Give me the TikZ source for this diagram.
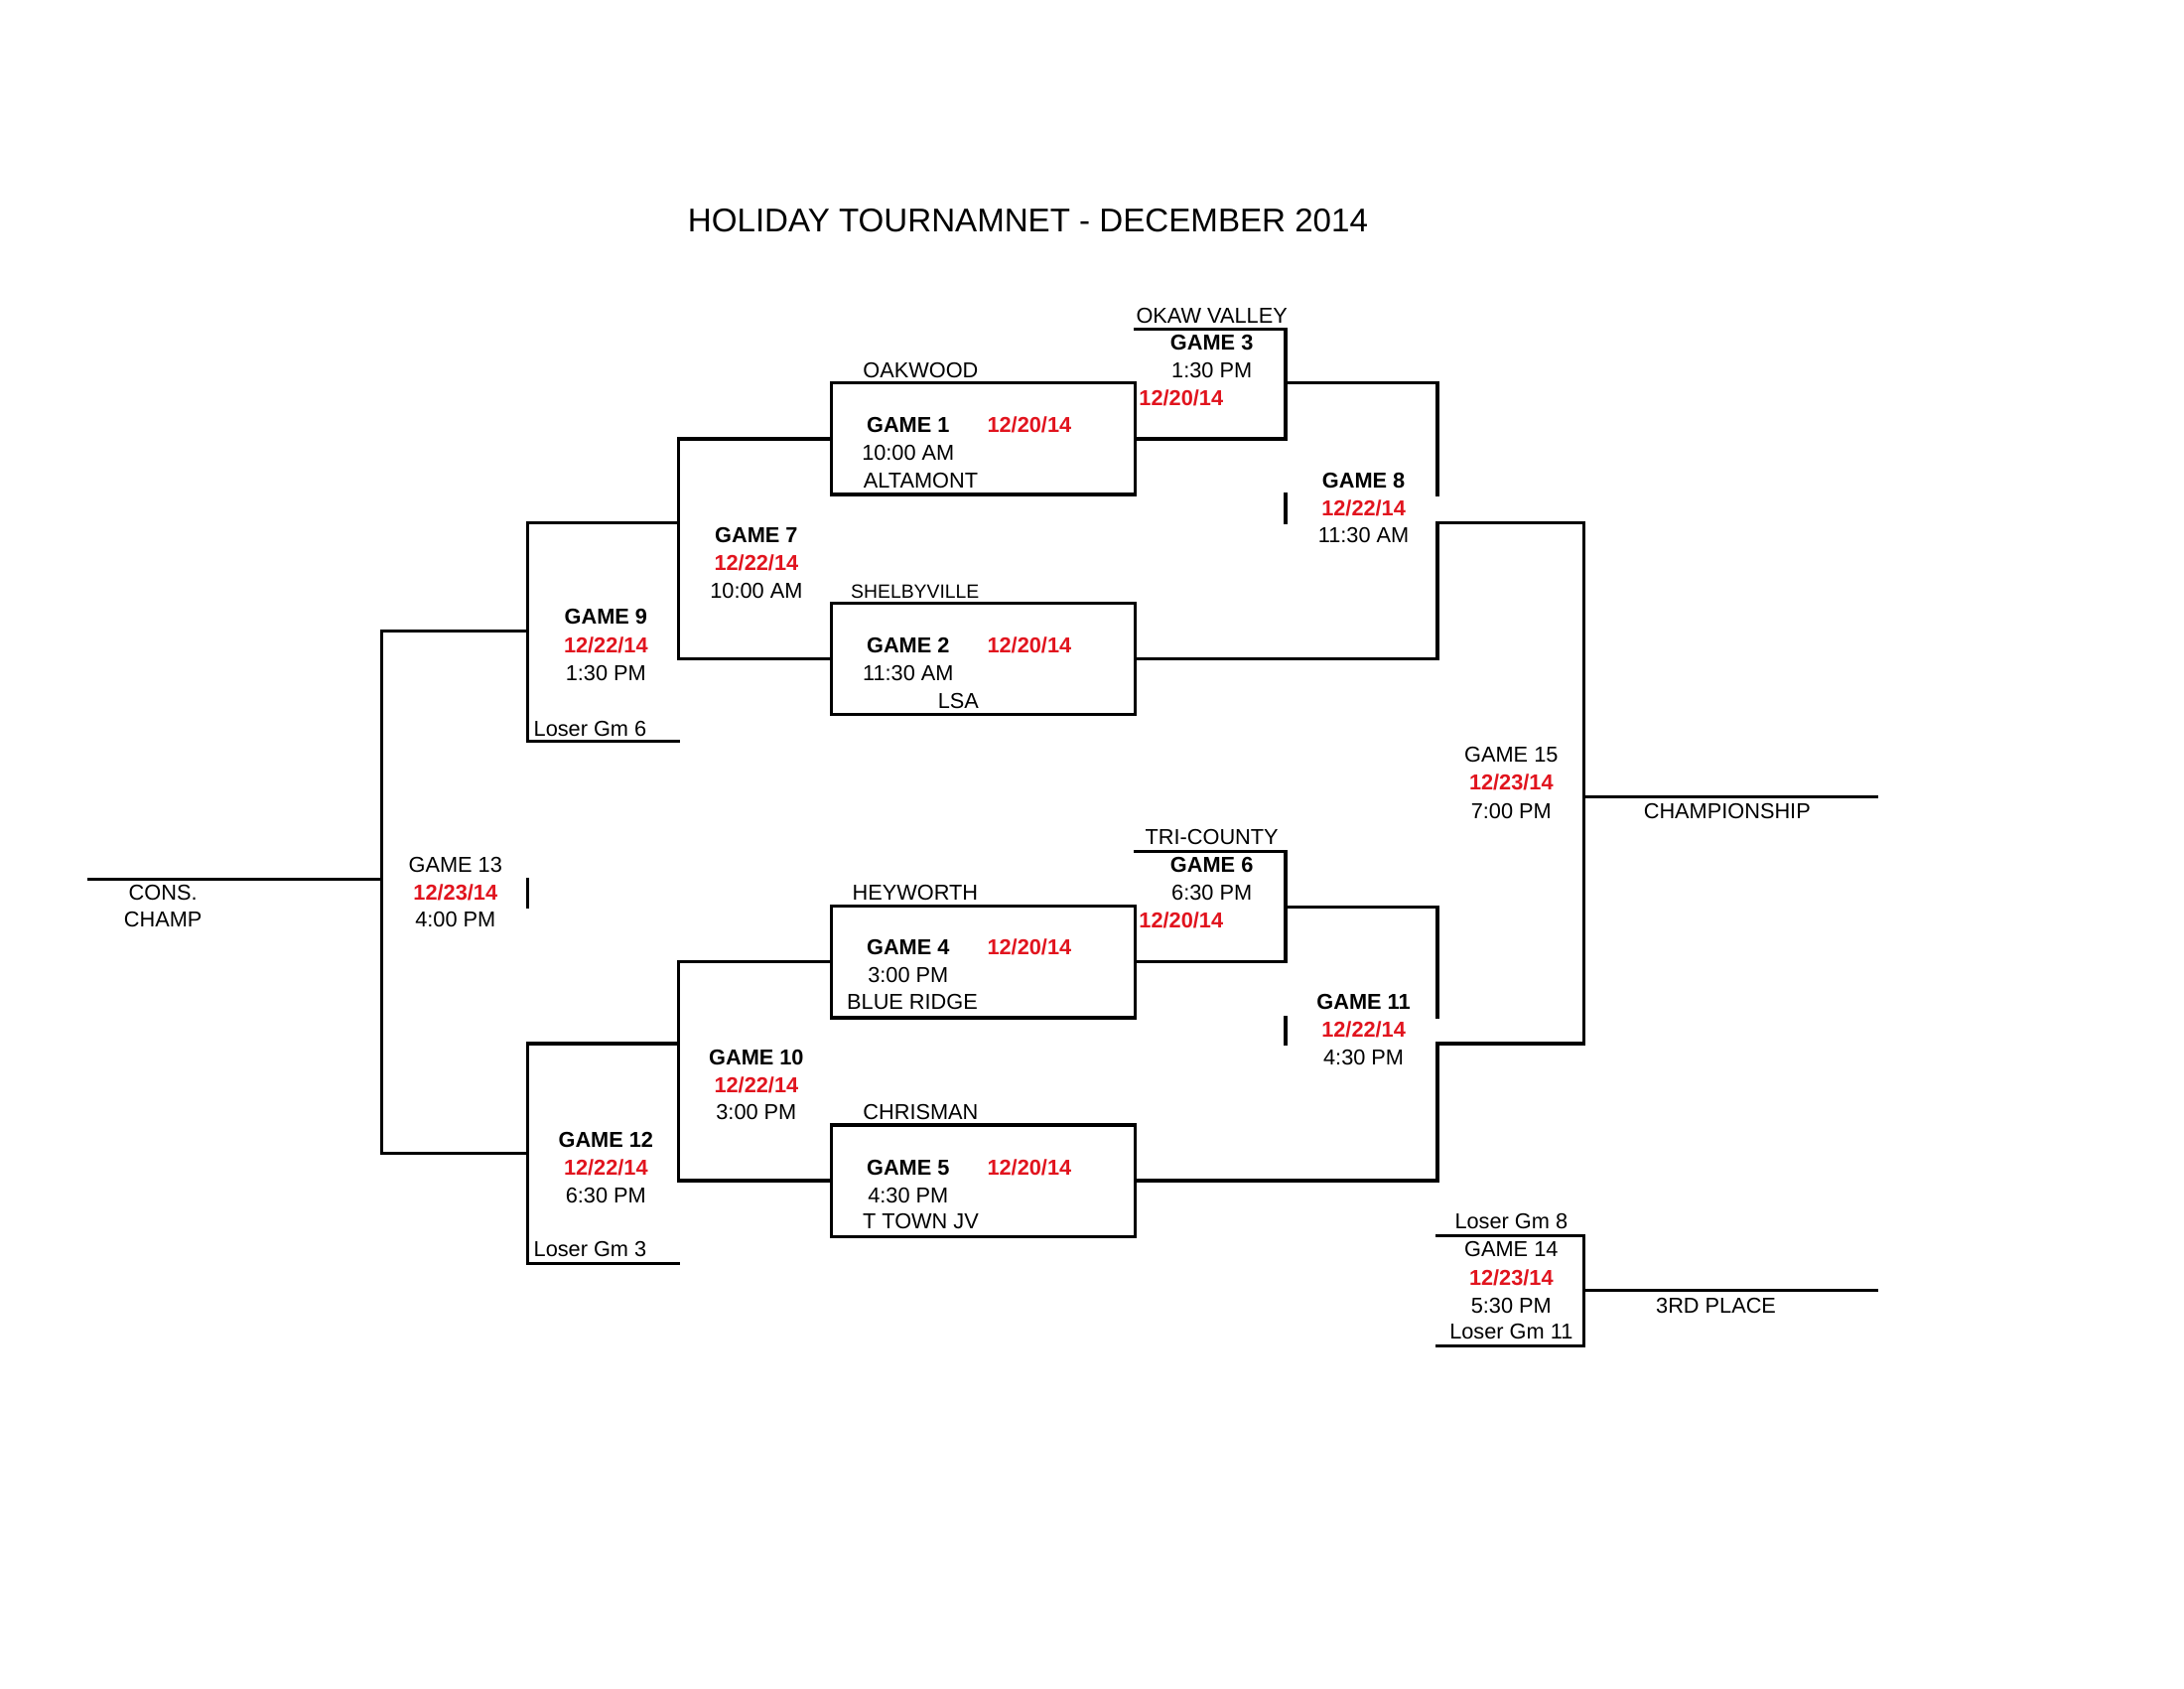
\documentclass[tikz,border=0pt]{standalone}
\usepackage{fontspec}
\setmainfont{Liberation Sans}
\definecolor{datered}{RGB}{225,20,30}
\newcommand\mysz{\fontsize{15.5}{19}\selectfont}
\tikzset{
  gbox/.style={draw, line width=2.3pt, minimum width=218pt, minimum height=80pt, inner sep=0pt},
  tx/.style={inner sep=0pt, text height=11pt, text depth=0pt, font=\mysz, yshift=-0.8pt},
  tb/.style={tx, font=\mysz\bfseries},
  tr/.style={tx, font=\mysz\bfseries, text=datered},
  ln/.style={line width=2.3pt, line cap=rect, line join=miter}
}
\begin{document}
\begin{tikzpicture}[x=1pt,y=-1pt]
\useasboundingbox (0,0) rectangle (1568,1212);
% title
\node[inner sep=0pt, text height=17pt, text depth=0pt, font=\fontsize{23.6}{28}\selectfont] (title) at (738,158) {HOLIDAY TOURNAMNET - DECEMBER 2014};

% first round boxes
\node[gbox] (g1) at (706,315) {};
\node[gbox] (g2) at (706,473) {};
\node[gbox] (g4) at (706,690.5) {};
\node[gbox] (g5) at (706,847.5) {};

% coordinates
\coordinate (j7) at (487,375);
\coordinate (g9t) at (379,375);
\coordinate (g9b) at (379,532);
\coordinate (g9e) at (487,532);
\coordinate (j9) at (379,453);
\coordinate (g13t) at (274,453);
\coordinate (g13b) at (274,828);
\coordinate (j12) at (379,828);
\coordinate (g13m) at (274,631);
\coordinate (cons) at (64,631);
\coordinate (tk13a) at (379,631);
\coordinate (tk13b) at (379,651);
\coordinate (j10) at (487,749);
\coordinate (g12t) at (379,749);
\coordinate (g12b) at (379,907);
\coordinate (g12e) at (487,907);

\coordinate (ok1) at (815,236);
\coordinate (ok2) at (923,236);
\coordinate (j3) at (923,275);
\coordinate (g8t) at (1032,275);
\coordinate (g8a) at (1032,355);
\coordinate (j8) at (1032,375);
\coordinate (tk8a) at (923,355);
\coordinate (tk8b) at (923,375);
\coordinate (g15t) at (1137,375);
\coordinate (g15b) at (1137,749);
\coordinate (j11) at (1032,749);
\coordinate (j15) at (1137,572);
\coordinate (champ) at (1347,572);

\coordinate (tc1) at (815,611);
\coordinate (tc2) at (923,611);
\coordinate (j6) at (923,651);
\coordinate (g11t) at (1032,651);
\coordinate (g11a) at (1032,730);
\coordinate (tk11a) at (923,730);
\coordinate (tk11b) at (923,749);

\coordinate (g14a) at (1032,887);
\coordinate (g14b) at (1137,887);
\coordinate (g14c) at (1137,966);
\coordinate (g14d) at (1032,966);
\coordinate (j14) at (1137,926);
\coordinate (third) at (1347,926);

% game 7 and game 10
\draw[ln] (g1.west) -| (j7) |- (g2.west);
\draw[ln] (g4.west) -| (j10) |- (g5.west);
% game 9 and 12
\draw[ln] (j7) -- (g9t) -- (g9b) -- (g9e);
\draw[ln] (j10) -- (g12t) -- (g12b) -- (g12e);
% game 13
\draw[ln] (j9) -- (g13t) -- (g13b) -- (j12);
\draw[ln] (cons) -- (g13m);
\draw[ln] (tk13a) -- (tk13b);
% game 3 and 8
\draw[ln] (ok1) -- (ok2) |- (g1.east);
\draw[ln] (j3) -- (g8t) -- (g8a);
\draw[ln] (tk8a) -- (tk8b);
\draw[ln] (g2.east) -| (j8) -- (g15t) -- (g15b) -- (j11);
% game 6 and 11
\draw[ln] (tc1) -- (tc2) |- (g4.east);
\draw[ln] (j6) -- (g11t) -- (g11a);
\draw[ln] (tk11a) -- (tk11b);
\draw[ln] (g5.east) -| (j11);
% championship
\draw[ln] (j15) -- (champ);
% game 14
\draw[ln] (g14a) -- (g14b) -- (g14c) -- (g14d);
\draw[ln] (j14) -- (third);

% texts game 1
\node[tx] (oak) at (661,265) {OAKWOOD};
\node[tb] (g1n) at (652,304) {GAME 1};
\node[tr] (g1d) at (739,304) {12/20/14};
\node[tx] (g1t) at (652,324) {10:00 AM};
\node[tx] (alt) at (661,344) {ALTAMONT};
% game 3
\node[tx] (okv) at (870,226) {OKAW VALLEY};
\node[tb] (g3n) at (870,245) {GAME 3};
\node[tx] (g3t) at (870,265) {1:30 PM};
\node[tr] (g3d) at (848,285) {12/20/14};
% game 8
\node[tb] (g8n) at (979,344) {GAME 8};
\node[tr] (g8d) at (979,364) {12/22/14};
\node[tx] (g8tm) at (979,383) {11:30 AM};
% game 7
\node[tb] (g7n) at (543,383) {GAME 7};
\node[tr] (g7d) at (543,403) {12/22/14};
\node[tx] (g7t) at (543,423) {10:00 AM};
% game 2
\node[tx, font=\fontsize{13.8}{17}\selectfont] (shel) at (657,423) {SHELBYVILLE};
\node[tb] (g2n) at (652,462) {GAME 2};
\node[tr] (g2d) at (739,462) {12/20/14};
\node[tx] (g2t) at (652,482) {11:30 AM};
\node[tx] (lsa) at (688,502) {LSA};
% game 9
\node[tb] (g9n) at (435,442) {GAME 9};
\node[tr] (g9d) at (435,462) {12/22/14};
\node[tx] (g9tm) at (435,482) {1:30 PM};
\node[tx, anchor=west] (l6) at (383,522) {Loser Gm 6};
% game 15
\node[tx] (g15n) at (1085,541) {GAME 15};
\node[tr] (g15d) at (1085,561) {12/23/14};
\node[tx] (g15tm) at (1085,581) {7:00 PM};
\node[tx] (chl) at (1240,581) {CHAMPIONSHIP};
% game 6
\node[tx] (tri) at (870,600) {TRI-COUNTY};
\node[tb] (g6n) at (870,620) {GAME 6};
\node[tx] (g6t) at (870,640) {6:30 PM};
\node[tr] (g6d) at (848,660) {12/20/14};
% game 13
\node[tx] (g13n) at (327,620) {GAME 13};
\node[tr] (g13d) at (327,640) {12/23/14};
\node[tx] (g13tm) at (327,659) {4:00 PM};
\node[tx] (cons1) at (117,640) {CONS.};
\node[tx] (cons2) at (117,659) {CHAMP};
% game 4
\node[tx] (hey) at (657,640) {HEYWORTH};
\node[tb] (g4n) at (652,679) {GAME 4};
\node[tr] (g4d) at (739,679) {12/20/14};
\node[tx] (g4t) at (652,699) {3:00 PM};
\node[tx] (blue) at (655,718) {BLUE RIDGE};
% game 11
\node[tb] (g11n) at (979,718) {GAME 11};
\node[tr] (g11d) at (979,738) {12/22/14};
\node[tx] (g11tm) at (979,758) {4:30 PM};
% game 10
\node[tb] (g10n) at (543,758) {GAME 10};
\node[tr] (g10d) at (543,778) {12/22/14};
\node[tx] (g10t) at (543,797) {3:00 PM};
% game 5
\node[tx] (chris) at (661,797) {CHRISMAN};
\node[tb] (g5n) at (652,837) {GAME 5};
\node[tr] (g5d) at (739,837) {12/20/14};
\node[tx] (g5t) at (652,857) {4:30 PM};
\node[tx] (ttown) at (661,876) {T TOWN JV};
% game 12
\node[tb] (g12n) at (435,817) {GAME 12};
\node[tr] (g12d) at (435,837) {12/22/14};
\node[tx] (g12tm) at (435,857) {6:30 PM};
\node[tx, anchor=west] (l3) at (383,896) {Loser Gm 3};
% game 14
\node[tx] (l8) at (1085,876) {Loser Gm 8};
\node[tx] (g14n) at (1085,896) {GAME 14};
\node[tr] (g14dt) at (1085,916) {12/23/14};
\node[tx] (g14tm) at (1085,936) {5:30 PM};
\node[tx] (l11) at (1085,955) {Loser Gm 11};
\node[tx] (thl) at (1232,936) {3RD PLACE};
\end{tikzpicture}
\end{document}
